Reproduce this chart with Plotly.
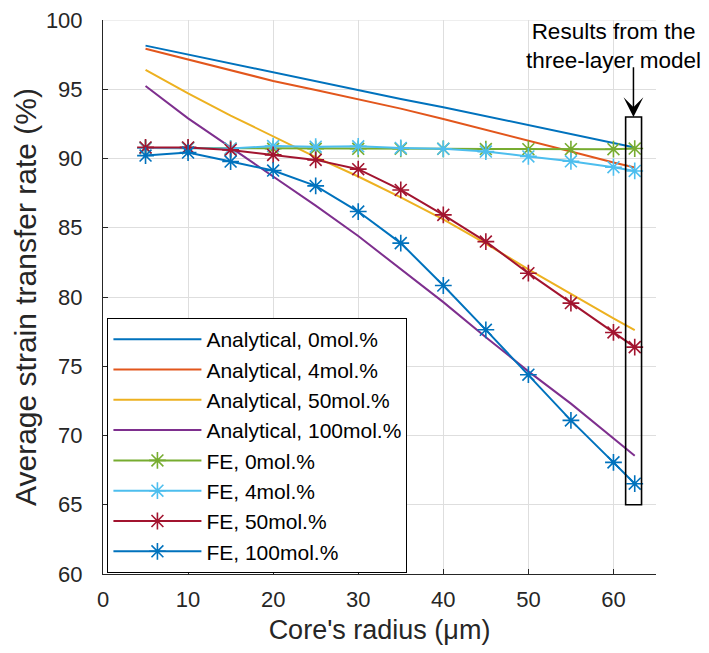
import plotly.graph_objects as go

# ---------------- data ----------------
radius = [5, 10, 15, 20, 25, 30, 35, 40, 45, 50, 55, 60, 62.5]

ana_0 = [98.15, 97.5, 96.85, 96.2, 95.55, 94.9, 94.3, 93.7, 93.05, 92.4, 91.75, 91.1, 90.8]
ana_4 = [97.93, 97.15, 96.4, 95.6, 94.95, 94.28, 93.6, 92.85, 92.05, 91.27, 90.5, 89.71, 89.35]
ana_50 = [96.4, 94.7, 93.1, 91.6, 90.1, 88.7, 87.2, 85.6, 83.85, 82.0, 80.2, 78.45, 77.6]
ana_100 = [95.24, 92.9, 90.8, 88.7, 86.6, 84.4, 82.0, 79.63, 77.1, 74.63, 72.3, 69.8, 68.54]

fe_0 = [90.75, 90.75, 90.7, 90.7, 90.7, 90.7, 90.7, 90.7, 90.68, 90.67, 90.67, 90.67, 90.72]
fe_4 = [90.75, 90.75, 90.72, 90.9, 90.85, 90.88, 90.76, 90.7, 90.5, 90.15, 89.8, 89.37, 89.1]
fe_50 = [90.8, 90.8, 90.62, 90.26, 89.9, 89.23, 87.73, 85.93, 84.0, 81.72, 79.56, 77.44, 76.38]
fe_100 = [90.21, 90.43, 89.78, 89.13, 88.02, 86.17, 83.89, 80.83, 77.63, 74.39, 71.09, 68.06, 66.52]

ana_names = ["Analytical, 0mol.%", "Analytical, 4mol.%", "Analytical, 50mol.%", "Analytical, 100mol.%"]
fe_names = ["FE, 0mol.%", "FE, 4mol.%", "FE, 50mol.%", "FE, 100mol.%"]

x_ticks = [0, 10, 20, 30, 40, 50, 60]
y_ticks = [60, 65, 70, 75, 80, 85, 90, 95, 100]

# three-layer model box (data coords)
box_x = [61.43, 63.3]
box_y = [65, 93]

# ---------------- style ----------------
ana_colors = ["#0072BD", "#E2561C", "#EDB120", "#7E2F8E"]
fe_colors = ["#77AC30", "#4DBEEE", "#A2142F", "#0072BD"]
FONT = "Liberation Sans, Arial, sans-serif"
TXT = "#262626"
GRID = "#dedede"

fig = go.Figure()

for name, ys, c in zip(ana_names, [ana_0, ana_4, ana_50, ana_100], ana_colors):
    fig.add_trace(go.Scatter(x=radius, y=ys, mode="lines", name=name,
                             line=dict(color=c, width=2)))

for name, ys, c in zip(fe_names, [fe_0, fe_4, fe_50, fe_100], fe_colors):
    fig.add_trace(go.Scatter(x=radius, y=ys, mode="lines+markers", name=name,
                             line=dict(color=c, width=2),
                             marker=dict(symbol="asterisk-open", size=14,
                                         color=c, line=dict(color=c, width=1.6))))

# light top border (grid line at the upper limit)
fig.add_shape(type="line", xref="paper", yref="y", x0=0, x1=1,
              y0=y_ticks[-1], y1=y_ticks[-1], line=dict(color=GRID, width=1), layer="below")

fig.add_shape(type="rect", xref="x", yref="y",
              x0=box_x[0], x1=box_x[1], y0=box_y[0], y1=box_y[1],
              line=dict(color="black", width=1.6), fillcolor="rgba(0,0,0,0)")

# arrow
fig.add_annotation(x=62.35, y=box_y[1], xref="x", yref="y",
                   ax=62.35, ay=96.7, axref="x", ayref="y",
                   text="", showarrow=True, arrowhead=3, arrowsize=2.2,
                   arrowwidth=1.5, arrowcolor="black", standoff=0, startstandoff=0)

# annotation text
fig.add_annotation(x=60.0, y=98.15, xref="x", yref="y",
                   text="Results from the<br>three-layer model", showarrow=False,
                   align="center", xanchor="center", yanchor="middle",
                   font=dict(family=FONT, size=22.5, color="black"))

# page is offset by the 8px default body margin -> compensate in size/margins
fig.update_layout(
    width=693, height=637,
    margin=dict(l=95, r=45, t=12, b=71, autoexpand=False),
    paper_bgcolor="white", plot_bgcolor="white",
    font=dict(family=FONT, size=22, color=TXT),
    showlegend=True,
    legend=dict(x=0.008, y=0.462, xanchor="left", yanchor="top",
                bgcolor="white", bordercolor="black", borderwidth=1,
                font=dict(family=FONT, size=21, color="black"),
                itemwidth=88, tracegroupgap=0),
)

fig.update_xaxes(range=[0, 65], tickvals=x_ticks, ticks="inside", ticklen=5,
                 tickcolor=TXT, showline=True, linecolor=TXT, linewidth=1,
                 showgrid=True, gridcolor=GRID, gridwidth=1, zeroline=False,
                 automargin=False, ticklabelstandoff=6, ticklabeloverflow="allow",
                 title=dict(text="Core's radius (μm)", font=dict(size=27, color=TXT), standoff=11),
                 tickfont=dict(size=22, color=TXT))

fig.update_yaxes(range=[60, 100], tickvals=y_ticks, ticks="inside", ticklen=5,
                 tickcolor=TXT, showline=True, linecolor=TXT, linewidth=1,
                 showgrid=True, gridcolor=GRID, gridwidth=1, zeroline=False,
                 automargin=False, ticklabelstandoff=15, ticklabeloverflow="allow",
                 title=dict(text="Average strain transfer rate (%)", font=dict(size=30, color=TXT), standoff=0),
                 tickfont=dict(size=22, color=TXT))

fig.write_html("out.html")
